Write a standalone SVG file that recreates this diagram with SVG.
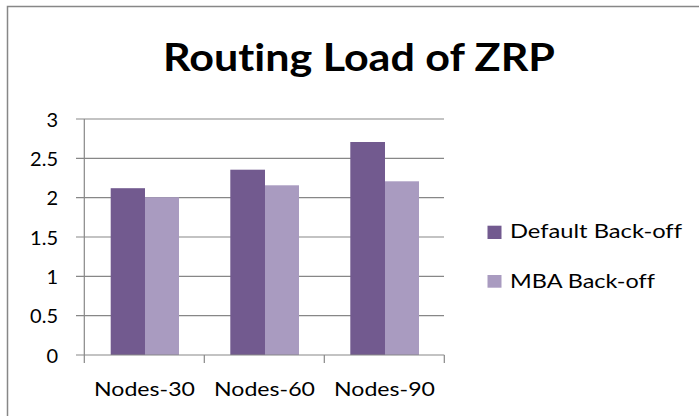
<svg xmlns="http://www.w3.org/2000/svg" width="699" height="416" viewBox="0 0 699 416">
  <style>
    text { font-variant-ligatures: none; }
    .frame { fill: #ffffff; stroke: #878787; stroke-width: 1.5; }
    .grid { stroke: #878787; stroke-width: 1.2; fill: none; }
    .axis { stroke: #878787; stroke-width: 1.2; fill: none; }
    .title { font-family: Lato, "Open Sans", sans-serif; font-weight: bold; font-size: 38px; fill: #000; }
    .lbl { font-family: Lato, "Open Sans", sans-serif; font-size: 20px; fill: #000; }
    .s1 { fill: #725A8F; }
    .s2 { fill: #A99BC0; }
  </style>

  <!-- chart area frame (extends past the right and bottom edges) -->
  <rect class="frame" x="7.5" y="6.5" width="700" height="420"/>

  <text class="title" x="359" y="71" text-anchor="middle" textLength="392" lengthAdjust="spacingAndGlyphs">Routing Load of ZRP</text>

  <!-- horizontal gridlines -->
  <g id="gridlines">
    <line class="grid" x1="76" y1="119" x2="444" y2="119"/>
    <line class="grid" x1="76" y1="158.3" x2="444" y2="158.3"/>
    <line class="grid" x1="76" y1="197.7" x2="444" y2="197.7"/>
    <line class="grid" x1="76" y1="237" x2="444" y2="237"/>
    <line class="grid" x1="76" y1="276.3" x2="444" y2="276.3"/>
    <line class="grid" x1="76" y1="315.7" x2="444" y2="315.7"/>
  </g>

  <!-- bars -->
  <g id="series-default">
    <rect class="s1" x="110.7" y="188.2" width="34.3" height="166.8"/>
    <rect class="s1" x="230.3" y="169.7" width="34.7" height="185.3"/>
    <rect class="s1" x="350.3" y="142" width="34.7" height="213"/>
  </g>
  <g id="series-mba">
    <rect class="s2" x="145" y="197.2" width="34" height="157.8"/>
    <rect class="s2" x="265" y="185.3" width="34" height="169.7"/>
    <rect class="s2" x="385" y="181.3" width="34" height="173.7"/>
  </g>

  <!-- axes and tick marks -->
  <g id="axes">
    <line class="axis" x1="84.3" y1="119" x2="84.3" y2="355"/>
    <line class="axis" x1="76" y1="355" x2="444.3" y2="355"/>
    <line class="axis" x1="84.3" y1="355" x2="84.3" y2="363"/>
    <line class="axis" x1="204.3" y1="355" x2="204.3" y2="363"/>
    <line class="axis" x1="324.3" y1="355" x2="324.3" y2="363"/>
    <line class="axis" x1="444.3" y1="355" x2="444.3" y2="363"/>
  </g>

  <!-- value axis labels -->
  <g id="y-labels" text-anchor="end">
    <text class="lbl" x="58" y="126.5">3</text>
    <text class="lbl" x="58" y="165.8">2.5</text>
    <text class="lbl" x="58" y="205.2">2</text>
    <text class="lbl" x="58" y="244.5">1.5</text>
    <text class="lbl" x="58" y="283.8">1</text>
    <text class="lbl" x="58" y="323.2">0.5</text>
    <text class="lbl" x="58" y="362.5">0</text>
  </g>

  <!-- category axis labels -->
  <g id="x-labels" text-anchor="middle">
    <text class="lbl" x="144.5" y="396" textLength="101" lengthAdjust="spacingAndGlyphs">Nodes-30</text>
    <text class="lbl" x="264.5" y="396" textLength="101" lengthAdjust="spacingAndGlyphs">Nodes-60</text>
    <text class="lbl" x="384.5" y="396" textLength="101" lengthAdjust="spacingAndGlyphs">Nodes-90</text>
  </g>

  <!-- legend -->
  <g id="legend-default">
    <rect class="s1" x="487.5" y="225.7" width="14" height="13.3"/>
    <text class="lbl" x="510" y="238.3" textLength="172" lengthAdjust="spacingAndGlyphs">Default Back-off</text>
  </g>
  <g id="legend-mba">
    <rect class="s2" x="487.5" y="275" width="14" height="12.7"/>
    <text class="lbl" x="510" y="287.7" textLength="145" lengthAdjust="spacingAndGlyphs">MBA Back-off</text>
  </g>
</svg>
